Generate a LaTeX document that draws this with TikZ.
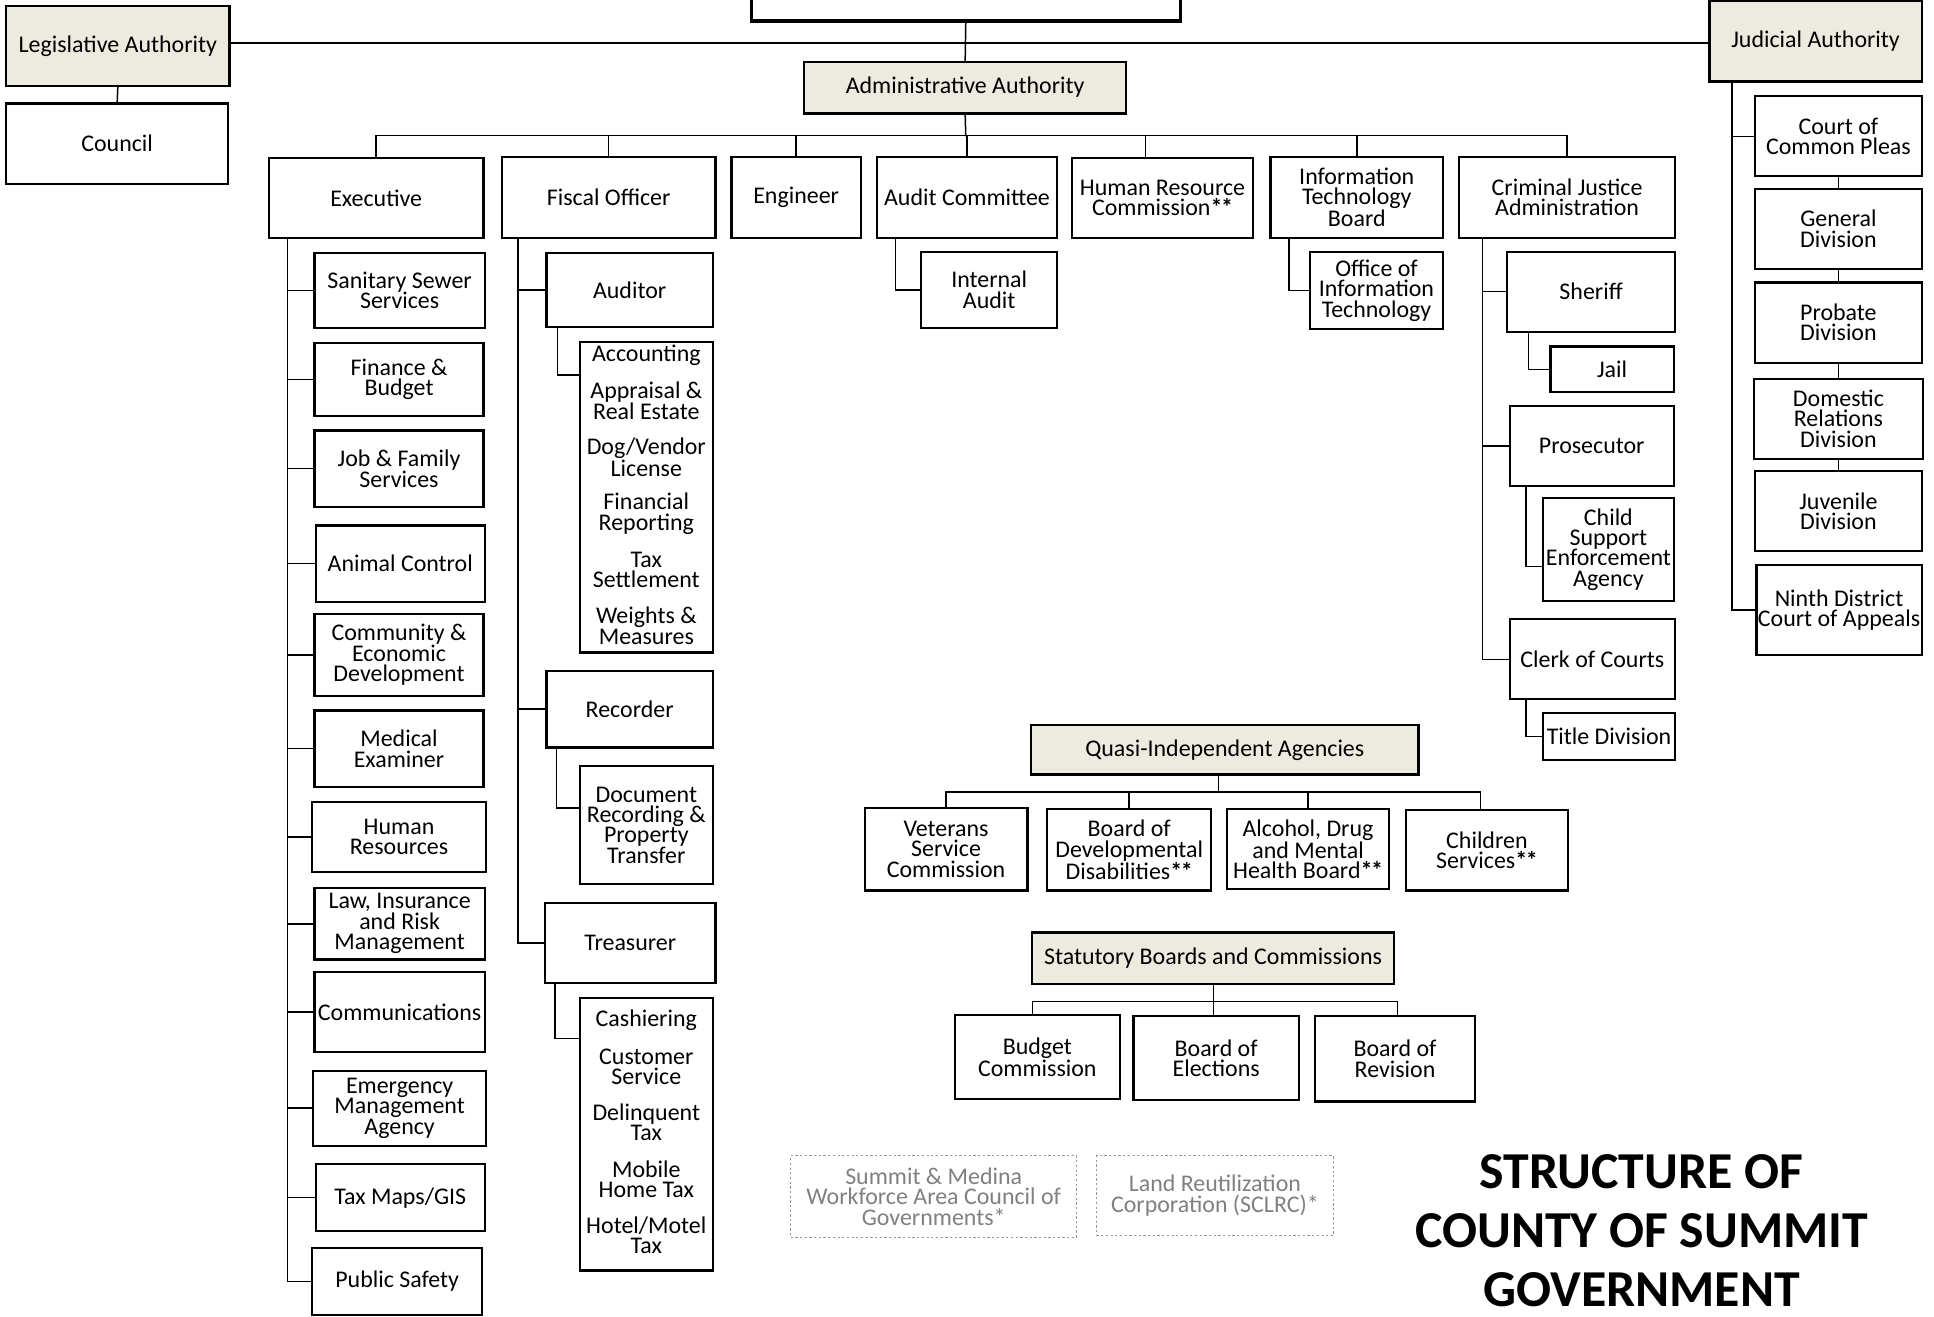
\documentclass[tikz,border=0pt]{standalone}
\usepackage{fontspec}
\setmainfont{Carlito}
\definecolor{authfill}{RGB}{237,234,224}
\definecolor{dimtext}{RGB}{128,128,128}
\definecolor{dimline}{RGB}{150,150,150}
\newcommand\fs{\fontsize{19.4}{16.6}\selectfont}
\newcommand\stars{{\bfseries*\kern-1.2pt*}}
\newcommand\bx[7][]{%
  \node[box,minimum width={(#5)-(#3)},minimum height={(#6)-(#4)},#1] (#2) at ({((#3)+(#5))/2},{((#4)+(#6))/2}) {#7};}
\tikzset{
  box/.style={draw, line width=1.8pt, inner sep=0pt, align=center, font=\fs, fill=white},
  auth/.style={fill=authfill},
  dim/.style={draw=dimline, dotted, line width=0.9pt, text=dimtext},
  conn/.style={line width=1.2pt, line cap=rect},
  txt/.style={inner sep=0pt, align=center, font=\fs},
}
\begin{document}
\begin{tikzpicture}[x=1pt,y=-1pt]
\useasboundingbox (0,0) rectangle (1568,1067);
\clip (0,0) rectangle (1568,1067);

% ---------- top level ----------
\bx[line width=2.6pt]{top}{609}{-20}{957}{17}{}
\bx[auth]{legis}{5}{5}{186}{70}{Legislative Authority}
\bx{council}{5}{84}{185}{149}{Council}
\bx[auth]{jud}{1386}{1}{1558}{66}{Judicial Authority}
\bx[auth]{admin}{652}{50}{913}{92}{Administrative Authority}

% ---------- administrative row ----------
\bx{exec}{218}{128}{392}{193}{Executive}
\bx{fis}{407}{127}{580}{193}{Fiscal Officer}
\bx{eng}{593}{127}{698}{193}{Engineer}
\bx{audc}{711}{127}{857}{193}{Audit Committee}
\bx{hrc}{869}{128}{1016}{193}{Human Resource\\Commission\stars}
\bx{itb}{1030}{127}{1170}{193}{Information\\Technology\\Board}
\bx{cja}{1183}{127}{1358}{193}{Criminal Justice\\Administration}

% ---------- executive children ----------
\bx{ss}{255}{205}{393}{266}{Sanitary Sewer\\Services}
\bx{fb}{255}{278}{392}{337}{Finance \&\\Budget}
\bx{jfs}{255}{349}{392}{411}{Job \& Family\\Services}
\bx{ac}{256}{426}{393}{488}{Animal Control}
\bx{ced}{255}{498}{392}{564}{Community \&\\Economic\\Development}
\bx{me}{255}{576}{392}{638}{Medical\\Examiner}
\bx{hr}{253}{650}{394}{707}{Human\\Resources}
\bx{lirm}{255}{720}{393}{778}{Law, Insurance\\and Risk\\Management}
\bx{comm}{255}{788}{393}{853}{Communications}
\bx{ema}{254}{868}{394}{929}{Emergency\\Management\\Agency}
\bx{gis}{256}{944}{393}{998}{Tax Maps/GIS}
\bx{ps}{253}{1012}{391}{1066}{Public Safety}

% ---------- fiscal officer children ----------
\bx{aud}{443}{205}{578}{265}{Auditor}
\bx{audl}{470}{277}{578}{529}{}
\node[txt] (a1) at (524,288) {Accounting};
\node[txt] (a2) at (524,325) {Appraisal \&\\Real Estate};
\node[txt] (a3) at (524,370.5) {Dog/Vendor\\License};
\node[txt] (a4) at (524,416.5) {Financial\\Reporting};
\node[txt] (a5) at (524,462) {Tax\\Settlement};
\node[txt] (a6) at (524,507.5) {Weights \&\\Measures};
\bx{rec}{443}{544}{578}{606}{Recorder}
\bx{drpt}{470}{621}{578}{717}{Document\\Recording \&\\Property\\Transfer}
\bx{tre}{442}{732}{580}{797}{Treasurer}
\bx{trel}{470}{809}{578}{1030}{}
\node[txt] (t1) at (524,827) {Cashiering};
\node[txt] (t2) at (524,865) {Customer\\Service};
\node[txt] (t3) at (524,910) {Delinquent\\Tax};
\node[txt] (t4) at (524,956) {Mobile\\Home Tax};
\node[txt] (t5) at (524,1001.5) {Hotel/Motel\\Tax};

% ---------- other children ----------
\bx{ia}{747}{204}{857}{266}{Internal\\Audit}
\bx{oit}{1062}{204}{1170}{267}{Office of\\Information\\Technology}
\bx{sher}{1222}{204}{1358}{269}{Sheriff}
\bx{jail}{1257}{281}{1357}{318}{Jail}
\bx{pros}{1224}{329}{1357}{394}{Prosecutor}
\bx{csea}{1251}{404}{1357}{487}{Child\\Support\\Enforcement\\Agency}
\bx{clerk}{1224}{502}{1358}{567}{Clerk of Courts}
\bx{title}{1251}{578}{1358}{616}{Title Division}

% ---------- judicial ----------
\bx{ccp}{1423}{78}{1558}{143}{Court of\\Common Pleas}
\bx{gen}{1423}{153}{1558}{218}{General\\Division}
\bx{prob}{1423}{229}{1558}{294}{Probate\\Division}
\bx{dom}{1422}{307}{1559}{372}{Domestic\\Relations\\Division}
\bx{juv}{1423}{382}{1558}{447}{Juvenile\\Division}
\bx{ninth}{1424}{458}{1558}{531}{Ninth District\\Court of Appeals}

% ---------- quasi-independent ----------
\bx[auth]{quasi}{836}{588}{1150}{628}{Quasi-Independent Agencies}
\bx{vet}{701}{655}{833}{722}{Veterans\\Service\\Commission}
\bx{bdd}{849}{656}{982}{722}{Board of\\Developmental\\Disabilities\stars}
\bx{adm}{995}{656}{1126}{721}{Alcohol, Drug\\and Mental\\Health Board\stars}
\bx{cs}{1140}{657}{1271}{722}{Children\\Services\stars}

% ---------- statutory ----------
\bx[auth]{stat}{837}{756}{1130}{798}{Statutory Boards and Commissions}
\bx{bc}{774}{823}{908}{891}{Budget\\Commission}
\bx{boe}{919}{824}{1053}{892}{Board of\\Elections}
\bx{bor}{1066}{824}{1196}{893}{Board of\\Revision}

% ---------- dotted ----------
\bx[dim]{smw}{641}{937}{873}{1003}{Summit \& Medina\\Workforce Area Council of\\Governments*}
\bx[dim]{lrc}{889}{937}{1081}{1002}{Land Reutilization\\Corporation (SCLRC)*}

% ---------- title ----------
\node[inner sep=0pt, align=center, font=\fontsize{42}{48}\selectfont\bfseries] (ttl) at (1331,998) {STRUCTURE OF\\COUNTY OF SUMMIT\\GOVERNMENT};

% ================= connectors =================
\begin{scope}[conn]
% top
\draw ([yshift=2.5pt]legis.east) -- ([yshift=2.5pt]legis.east -| jud.west);
\draw (top.south) -- (admin.north);
\draw (legis.south) -- (council.north);
% admin bus
\coordinate (abus) at (783,110);
\draw (admin.south) -- (abus);
\foreach \n in {exec,fis,eng,audc,itb,cja} \draw (\n.north) |- (abus);
\draw ([xshift=-14pt]hrc.north) |- (abus);
% executive spine
\foreach \n in {ss,fb,jfs,ac,ced,me,hr,lirm,comm,ema,gis,ps}
  \draw ([xshift=16pt]exec.south west) |- (\n.west);
% fiscal spine
\foreach \n in {aud,rec,tre}
  \draw ([xshift=14pt]fis.south west) |- (\n.west);
\draw ([xshift=10pt]aud.south west) |- ([yshift=-28pt]audl.north west);
\draw ([xshift=9pt]rec.south west) |- ([yshift=14pt]drpt.west);
\draw ([xshift=9pt]tre.south west) |- ([yshift=-34pt]trel.north west);
% audit / IT
\draw ([xshift=16pt]audc.south west) |- (ia.west);
\draw ([xshift=16pt]itb.south west) |- (oit.west);
% criminal justice
\foreach \n in {sher,pros,clerk}
  \draw ([xshift=20pt]cja.south west) |- (\n.west);
\draw ([xshift=18pt]sher.south west) |- (jail.west);
\draw ([xshift=14pt]pros.south west) |- ([yshift=-14pt]csea.west);
\draw ([xshift=14pt]clerk.south west) |- (title.west);
% judicial
\draw ([xshift=19pt]jud.south west) |- (ccp.west);
\draw ([xshift=19pt]jud.south west) |- (ninth.west);
\draw (ccp.south) -- (gen.north);
\draw (gen.south) -- (prob.north);
\draw (prob.south) -- (dom.north);
\draw (dom.south) -- (juv.north);
% quasi bus
\coordinate (qbus) at (988,642);
\draw (qbus |- quasi.south) -- (qbus);
\foreach \n in {vet,bdd,adm} \draw (\n.north) |- (qbus);
\draw ([xshift=-5pt]cs.north) |- (qbus);
% statutory bus
\coordinate (sbus) at (984,812);
\draw (sbus |- stat.south) -- (sbus);
\draw ([xshift=-4pt]bc.north) |- (sbus);
\draw ([xshift=-2pt]boe.north) |- (sbus);
\draw ([xshift=2pt]bor.north) |- (sbus);
\end{scope}
\end{tikzpicture}
\end{document}
